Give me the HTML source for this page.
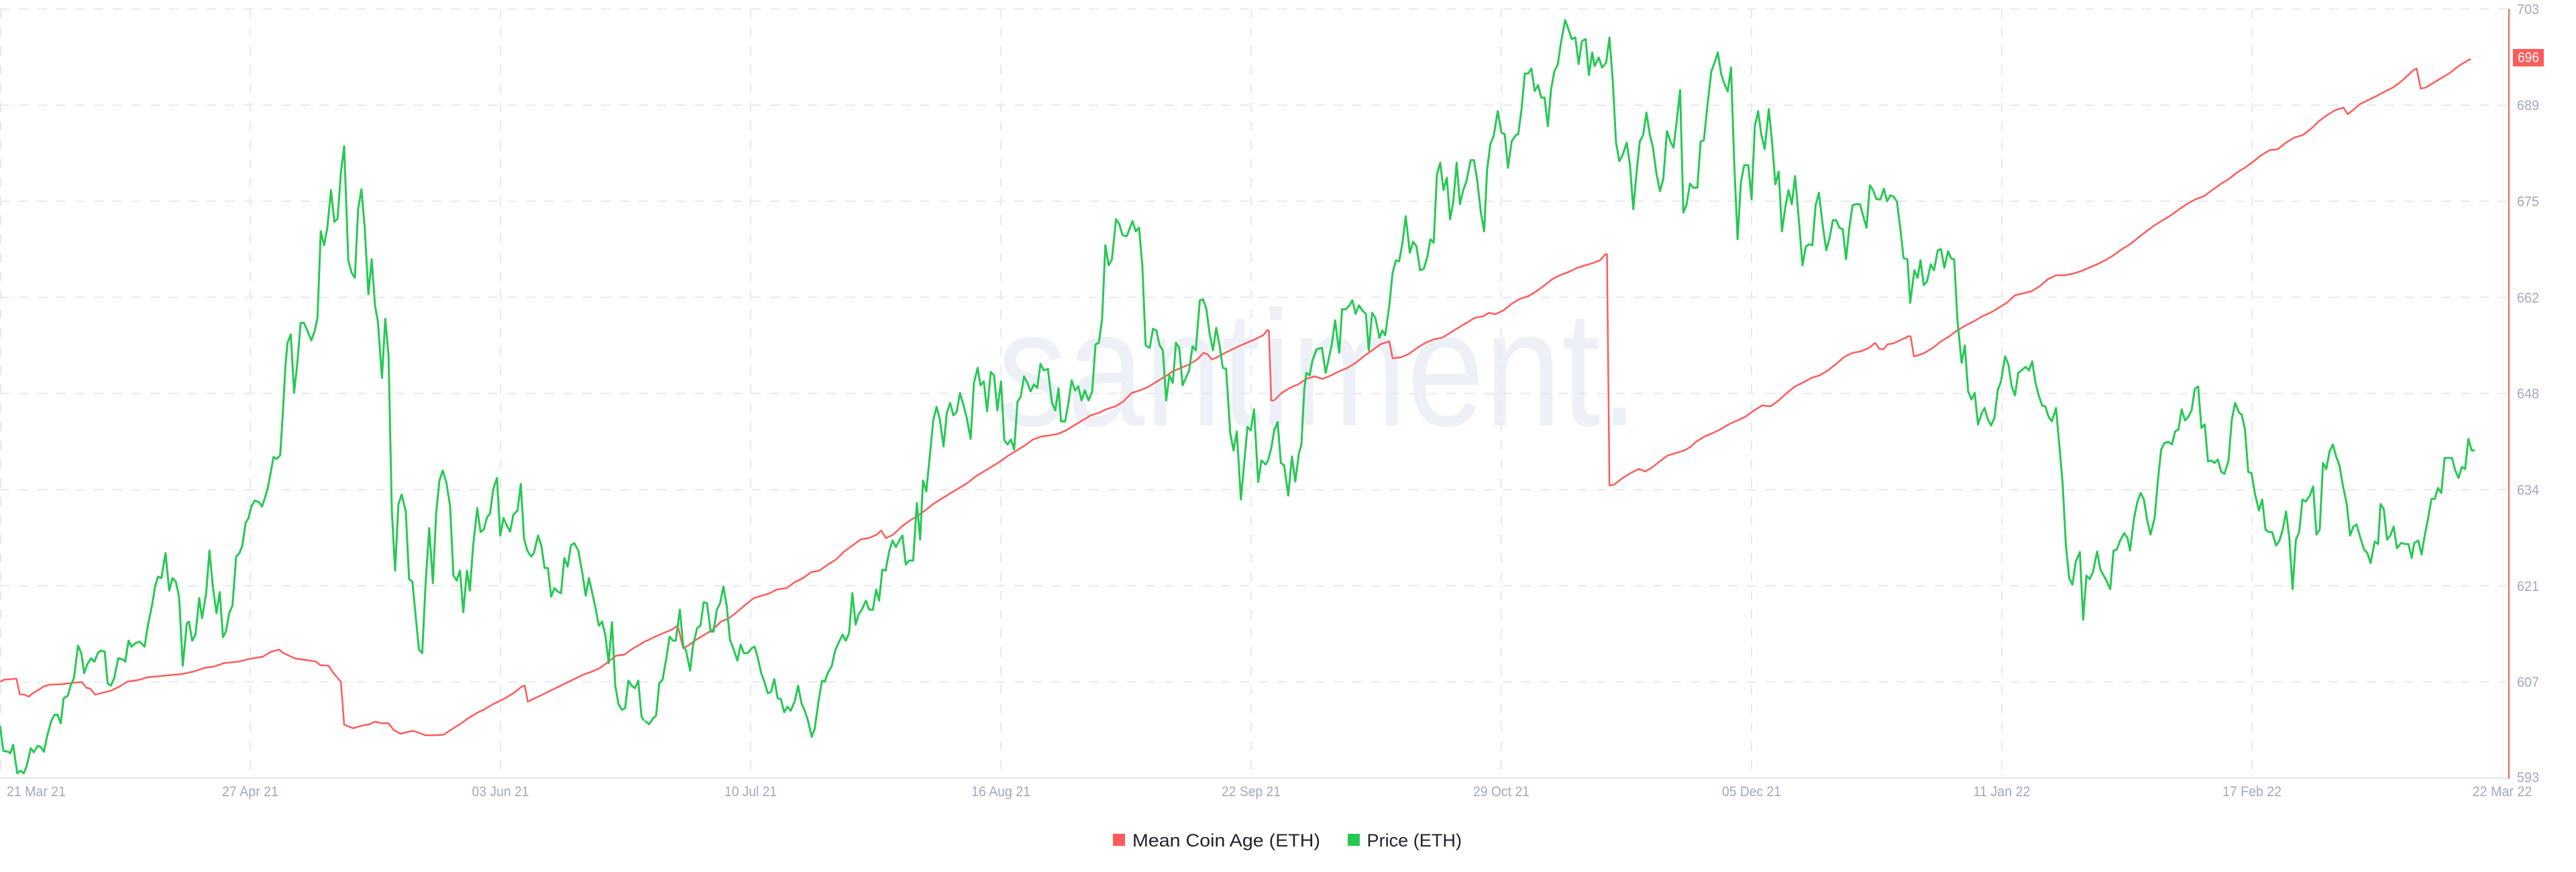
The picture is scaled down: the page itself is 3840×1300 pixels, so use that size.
<!DOCTYPE html>
<html><head><meta charset="utf-8"><style>html,body{margin:0;padding:0;background:#fff;width:3840px;height:1300px;overflow:hidden}</style></head>
<body>
<svg width="3840" height="1300" viewBox="0 0 3840 1300" xmlns="http://www.w3.org/2000/svg" font-family="'Liberation Sans', sans-serif">
<rect x="0" y="0" width="3840" height="1300" fill="#fff"/>
<text x="1487" y="634" font-size="245" fill="#edf0f7" textLength="956" lengthAdjust="spacingAndGlyphs">santiment.</text>
<g stroke="#e6e9f0" stroke-width="2" stroke-dasharray="14 14" fill="none">
<line x1="0" y1="13.4" x2="3738" y2="13.4"/>
<line x1="0" y1="156.7" x2="3738" y2="156.7"/>
<line x1="0" y1="300" x2="3738" y2="300"/>
<line x1="0" y1="443.3" x2="3738" y2="443.3"/>
<line x1="0" y1="586.6" x2="3738" y2="586.6"/>
<line x1="0" y1="730" x2="3738" y2="730"/>
<line x1="0" y1="873.3" x2="3738" y2="873.3"/>
<line x1="0" y1="1016.6" x2="3738" y2="1016.6"/>
<line x1="1" y1="13" x2="1" y2="1160"/>
<line x1="373" y1="13" x2="373" y2="1160"/>
<line x1="746" y1="13" x2="746" y2="1160"/>
<line x1="1119" y1="13" x2="1119" y2="1160"/>
<line x1="1492" y1="13" x2="1492" y2="1160"/>
<line x1="1865" y1="13" x2="1865" y2="1160"/>
<line x1="2238" y1="13" x2="2238" y2="1160"/>
<line x1="2611" y1="13" x2="2611" y2="1160"/>
<line x1="2984" y1="13" x2="2984" y2="1160"/>
<line x1="3357" y1="13" x2="3357" y2="1160"/>
</g>
<line x1="0" y1="1160" x2="3740" y2="1160" stroke="#e3e6ee" stroke-width="2"/>
<line x1="3740" y1="13" x2="3740" y2="1161" stroke="#f0605d" stroke-width="2"/>

<g fill="none" stroke="#ff5b5b" stroke-width="2.5" stroke-linejoin="round">
<polyline vector-effect="non-scaling-stroke" transform="translate(0,0) scale(0.612245,0.746173)" points="0,1362 10,1358 40,1356 48,1387 60,1388 70,1392 80,1385 95,1378 105,1372 120,1368 150,1367 180,1364 200,1363 210,1374 220,1376 232,1388 245,1385 270,1380 290,1372 310,1362 340,1358 360,1353 400,1350 440,1347 470,1342 500,1334 520,1332 545,1325 580,1322 610,1316 640,1312 660,1302 680,1298 690,1305 720,1316 740,1318 770,1322 780,1329 800,1330 812,1345 830,1362 838,1448 860,1455 880,1450 900,1447 912,1442 930,1445 946,1445 958,1458 975,1466 990,1463 1005,1460 1020,1464 1035,1469 1060,1469 1080,1468 1100,1457 1120,1447 1140,1435 1160,1425 1180,1417 1200,1407 1230,1395 1250,1385 1270,1372 1278,1370 1285,1402 1300,1396 1320,1388 1340,1380 1360,1372 1390,1360 1420,1348 1440,1342 1460,1335 1480,1323 1500,1310 1520,1308 1540,1296 1560,1287 1568,1282"/>
<polyline vector-effect="non-scaling-stroke" transform="translate(940,0) scale(0.612245,0.746173)" points="33,1282 40,1280 60,1272 80,1265 100,1258 115,1250 122,1275 128,1295 140,1290 160,1278 180,1268 200,1258 220,1242 240,1235 260,1222 280,1208 300,1195 320,1190 340,1185 355,1178 380,1175 400,1163 420,1155 440,1143 460,1140 480,1128 500,1118 520,1102 540,1090 560,1078 580,1075 600,1068 610,1060 622,1075 640,1068 660,1052 680,1040 700,1030 720,1018 740,1005 760,995 780,985 800,975 820,965 840,952 860,942 880,932 900,922 920,910 940,900 960,890 980,878 1000,872 1020,870 1040,867 1060,860 1080,850 1100,840 1120,830 1140,825 1160,817 1180,812 1200,802 1220,785 1240,780 1260,773 1280,763 1300,753 1320,742 1340,735 1360,728 1380,718 1395,705 1405,708 1415,718 1425,715 1440,708 1460,700 1480,692 1500,685 1520,678 1540,670 1550,660 1554,660 1560,800 1568,800"/>
<polyline vector-effect="non-scaling-stroke" transform="translate(1880,0) scale(0.612245,0.746173)" points="33,799 50,785 70,775 90,768 110,757 130,752 150,757 170,750 190,742 210,735 230,725 250,712 270,700 290,688 312,682 320,716 340,714 360,707 380,695 400,685 420,678 440,675 460,665 480,655 500,645 520,635 540,632 555,625 570,628 590,620 610,607 630,597 650,592 670,582 690,570 710,557 730,549 750,543 770,535 790,530 810,525 825,520 838,508 842,508 848,970 860,968 880,955 900,945 920,937 935,942 950,935 970,922 990,910 1010,905 1030,900 1045,893 1060,882 1080,872 1100,865 1120,857 1140,847 1160,840 1180,832 1200,820 1220,810 1240,812 1260,800 1280,785 1300,772 1320,764 1340,755 1360,750 1380,740 1400,727 1420,713 1440,705 1460,702 1480,695 1495,685 1505,697 1515,698 1525,688 1540,686 1560,678 1568,675"/>
<polyline vector-effect="non-scaling-stroke" transform="translate(2820,0) scale(0.612245,0.746173)" points="33,677 38,672 46,672 54,712 64,710 80,705 100,695 120,682 140,672 160,660 180,650 200,642 220,632 240,625 260,615 280,605 300,590 320,586 340,582 360,572 380,558 400,550 420,550 440,547 460,542 480,535 500,528 520,520 540,510 560,498 580,488 600,475 620,462 640,450 660,440 680,430 700,418 720,407 740,398 760,392 780,380 800,368 820,358 840,345 860,335 880,323 900,310 920,300 940,298 960,285 980,275 1000,270 1020,258 1040,242 1060,230 1080,220 1100,215 1110,228 1120,222 1140,208 1160,200 1180,192 1200,183 1220,175 1240,163 1260,148 1270,140 1278,137 1288,177 1300,175 1320,165 1340,155 1360,145 1380,132 1400,122 1410,118"/>
</g>

<g fill="none" stroke="#26c953" stroke-width="3" stroke-linejoin="round">
<polyline vector-effect="non-scaling-stroke" transform="translate(0,0) scale(0.612245,0.746173)" points="0,1450 8,1500 20,1502 25,1505 32,1488 42,1545 50,1540 58,1545 65,1530 75,1495 82,1503 92,1490 100,1493 107,1502 115,1470 125,1440 133,1428 140,1428 148,1445 155,1395 165,1390 172,1370 180,1355 190,1290 198,1305 205,1345 212,1328 222,1315 230,1322 238,1305 245,1300 255,1302 262,1365 270,1370 278,1355 288,1315 300,1318 305,1322 313,1280 320,1292 330,1285 340,1282 352,1292 360,1250 370,1210 378,1170 385,1152 393,1155 403,1105 412,1180 420,1155 428,1162 436,1192 445,1330 455,1245 460,1242 468,1280 476,1268 485,1195 492,1235 502,1185 510,1100 518,1170 527,1225 535,1183 543,1273 550,1262 558,1225 566,1210 575,1112 583,1105 590,1090 598,1045 605,1035 612,1012 620,1000 630,1003 638,1012 645,995 652,975 660,940 666,913 673,917 682,910 688,835 695,730 700,685 708,668 716,785 724,725 732,645 740,645 748,660 758,680 766,662 773,635 781,462 789,490 797,455 806,380 814,443 822,437 830,345 838,292 848,520 856,545 864,555 872,418 880,378 888,455 897,588 905,518 913,610 920,642 930,755 938,637 946,710 954,1020 962,1140 970,1008 978,988 988,1022 996,1157 1004,1162 1012,1230 1020,1298 1028,1305 1036,1170 1045,1055 1054,1165 1062,1025 1070,960 1078,940 1087,965 1096,1012 1104,1150 1112,1160 1120,1140 1128,1223 1137,1140 1144,1180 1152,1090 1162,1015 1170,1063 1178,1058 1186,1033 1193,1027 1201,977 1210,955 1218,1070 1226,1035 1234,1050 1242,1062 1250,1028 1260,1020 1268,967 1276,1077 1284,1100 1293,1112 1300,1105 1310,1070 1318,1090 1326,1135 1334,1135 1342,1192 1350,1175 1358,1182 1366,1185 1374,1115 1382,1132 1390,1090 1398,1085 1408,1100 1418,1145 1426,1190 1434,1155 1442,1185 1450,1215 1458,1250 1466,1242 1474,1270 1482,1325 1490,1243 1498,1370 1506,1407 1514,1418 1522,1415 1530,1360 1538,1370 1546,1375 1554,1360 1562,1432 1568,1440"/>
<polyline vector-effect="non-scaling-stroke" transform="translate(940,0) scale(0.612245,0.746173)" points="35,1440 45,1447 55,1435 62,1430 70,1365 78,1358 88,1310 95,1272 103,1280 110,1280 120,1218 128,1290 135,1300 145,1340 152,1290 162,1255 170,1250 178,1203 186,1205 195,1262 202,1262 210,1218 218,1205 226,1172 234,1210 242,1278 252,1300 260,1320 268,1288 276,1305 285,1305 295,1295 302,1292 310,1315 318,1345 325,1360 334,1385 342,1382 350,1357 358,1395 366,1397 374,1423 382,1412 390,1420 400,1400 408,1370 416,1405 424,1420 432,1440 441,1472 448,1457 458,1400 466,1360 473,1362 480,1345 490,1330 498,1300 506,1285 516,1268 524,1280 532,1265 540,1185 548,1248 555,1228 563,1218 573,1200 581,1218 590,1218 598,1178 605,1200 613,1138 621,1140 630,1100 638,1080 646,1093 654,1080 662,1070 670,1128 678,1120 688,1120 697,1005 705,1078 712,960 720,982 728,915 737,840 745,813 753,838 762,892 770,825 778,805 786,830 794,823 802,785 810,808 818,833 828,877 836,765 845,735 852,770 860,762 868,822 877,743 885,750 893,820 902,762 910,880 918,888 926,878 934,898 942,803 950,792 958,752 966,765 974,782 982,768 990,775 998,727 1006,740 1016,737 1026,805 1034,820 1042,776 1048,842 1058,842 1066,806 1074,760 1082,780 1090,772 1098,800 1106,780 1115,800 1124,782 1132,688 1140,685 1148,638 1156,490 1164,530 1172,518 1182,438 1190,448 1198,470 1208,472 1222,442 1230,462 1238,455 1246,530 1254,690 1264,695 1272,657 1280,660 1288,690 1296,700 1304,800 1312,750 1320,765 1328,685 1336,695 1344,770 1352,755 1360,740 1368,692 1376,700 1386,600 1394,598 1402,618 1410,668 1418,700 1426,655 1434,690 1442,735 1450,737 1460,865 1468,900 1476,862 1486,998 1494,925 1502,853 1510,860 1518,818 1528,963 1536,920 1546,928 1552,920 1560,895 1568,855"/>
<polyline vector-effect="non-scaling-stroke" transform="translate(1880,0) scale(0.612245,0.746173)" points="33,858 40,843 48,925 56,930 66,990 75,912 83,962 92,905 98,888 105,778 110,745 118,750 125,720 135,698 148,695 157,745 165,715 172,688 180,640 190,705 197,618 206,618 215,610 222,600 230,627 238,610 246,620 255,627 262,700 270,625 278,635 288,675 295,660 302,670 312,610 320,545 328,520 336,522 344,485 352,432 362,505 370,483 378,492 387,540 396,537 405,512 412,478 420,485 428,348 436,325 444,380 452,355 460,438 468,402 476,325 484,408 492,380 500,362 510,320 518,320 526,360 535,425 543,462 550,340 558,288 566,272 576,222 585,265 593,268 601,335 610,282 620,270 626,268 634,218 642,147 650,147 658,137 666,182 674,170 682,195 690,195 698,252 706,178 714,142 722,130 730,85 740,40 748,58 756,78 765,75 773,128 781,82 790,78 798,150 806,105 812,132 822,115 830,135 840,125 848,75 856,160 864,285 872,322 880,310 890,285 898,330 906,418 914,345 922,282 930,270 938,225 946,268 954,295 962,345 971,382 979,358 988,262 996,282 1004,295 1012,240 1020,180 1028,425 1036,408 1044,367 1052,375 1062,375 1070,283 1078,280 1086,215 1096,143 1104,125 1112,105 1120,148 1128,168 1136,183 1144,135 1152,330 1160,478 1168,365 1176,330 1186,330 1194,398 1202,252 1210,222 1218,270 1226,298 1236,218 1244,285 1252,368 1260,343 1268,462 1276,415 1284,380 1292,408 1300,352 1310,448 1318,530 1326,493 1334,488 1342,490 1350,410 1358,385 1368,455 1376,500 1384,475 1392,440 1400,440 1408,455 1416,458 1424,518 1432,455 1440,410 1448,408 1458,408 1466,432 1474,455 1482,370 1490,380 1498,398 1508,398 1516,377 1524,402 1532,390 1540,393 1548,403 1556,455 1564,515 1568,518"/>
<polyline vector-effect="non-scaling-stroke" transform="translate(2820,0) scale(0.612245,0.746173)" points="33,516 38,518 45,605 55,540 63,555 70,520 78,570 86,562 95,528 103,540 112,500 120,498 128,535 137,502 145,517 152,518 160,640 170,725 178,690 186,782 194,798 202,785 210,848 218,828 226,815 234,838 242,850 250,835 258,780 266,762 276,712 284,728 292,772 300,790 308,745 316,740 326,733 334,740 342,722 350,765 358,790 366,810 374,812 382,833 390,842 400,815 408,890 416,965 424,1090 432,1155 440,1168 448,1122 458,1103 466,1238 474,1150 482,1157 490,1143 500,1102 508,1138 516,1150 524,1162 532,1177 540,1100 548,1098 556,1080 566,1065 574,1075 580,1100 590,1035 598,1003 606,985 614,998 622,1040 630,1068 640,1035 648,960 656,898 664,885 674,883 682,888 690,862 698,858 706,818 714,840 722,833 730,820 738,777 746,772 754,855 762,848 770,922 778,920 786,925 794,918 802,942 810,947 820,920 828,838 836,805 846,825 852,828 860,858 868,943 876,945 884,985 894,1020 902,998 910,1058 918,1063 926,1063 936,1090 944,1080 952,1058 960,1022 968,1075 976,1177 984,1078 992,1063 1000,998 1008,1002 1018,990 1026,972 1034,1068 1042,1058 1050,925 1058,937 1066,902 1074,888 1082,912 1090,930 1098,968 1108,1008 1116,1070 1124,1052 1132,1048 1140,1072 1150,1098 1158,1105 1166,1125 1176,1082 1184,1087 1190,1007 1198,1017 1206,1078 1214,1070 1222,1052 1230,1095 1240,1085 1250,1087 1258,1087 1266,1115 1272,1085 1282,1080 1290,1108 1298,1068 1306,1035 1314,997 1322,997 1330,975 1338,985 1346,915 1356,915 1364,915 1372,940 1380,955 1388,933 1396,937 1404,877 1412,900 1420,900"/>
</g>

<g font-size="21" fill="#a0a8bf">
<text x="3752" y="21" textLength="33" lengthAdjust="spacingAndGlyphs">703</text>
<text x="3752" y="164" textLength="33" lengthAdjust="spacingAndGlyphs">689</text>
<text x="3752" y="307.5" textLength="33" lengthAdjust="spacingAndGlyphs">675</text>
<text x="3752" y="451" textLength="33" lengthAdjust="spacingAndGlyphs">662</text>
<text x="3752" y="594" textLength="33" lengthAdjust="spacingAndGlyphs">648</text>
<text x="3752" y="737.5" textLength="33" lengthAdjust="spacingAndGlyphs">634</text>
<text x="3752" y="881" textLength="33" lengthAdjust="spacingAndGlyphs">621</text>
<text x="3752" y="1024" textLength="33" lengthAdjust="spacingAndGlyphs">607</text>
<text x="3752" y="1166" textLength="33" lengthAdjust="spacingAndGlyphs">593</text>
</g>
<rect x="3746" y="73" width="46" height="26" fill="#ff5b5b"/>
<text x="3753" y="92.5" font-size="21" fill="#ffffff" textLength="32" lengthAdjust="spacingAndGlyphs">696</text>

<g font-size="21" fill="#a0a8bf" text-anchor="middle">
<text x="10" y="1187" text-anchor="start" textLength="88" lengthAdjust="spacingAndGlyphs">21 Mar 21</text>
<text x="373" y="1187" textLength="84" lengthAdjust="spacingAndGlyphs">27 Apr 21</text>
<text x="746" y="1187" textLength="85" lengthAdjust="spacingAndGlyphs">03 Jun 21</text>
<text x="1119" y="1187" textLength="78" lengthAdjust="spacingAndGlyphs">10 Jul 21</text>
<text x="1492" y="1187" textLength="88" lengthAdjust="spacingAndGlyphs">16 Aug 21</text>
<text x="1865" y="1187" textLength="88" lengthAdjust="spacingAndGlyphs">22 Sep 21</text>
<text x="2238" y="1187" textLength="84" lengthAdjust="spacingAndGlyphs">29 Oct 21</text>
<text x="2611" y="1187" textLength="88" lengthAdjust="spacingAndGlyphs">05 Dec 21</text>
<text x="2984" y="1187" textLength="85" lengthAdjust="spacingAndGlyphs">11 Jan 22</text>
<text x="3357" y="1187" textLength="88" lengthAdjust="spacingAndGlyphs">17 Feb 22</text>
<text x="3730" y="1187" textLength="89" lengthAdjust="spacingAndGlyphs">22 Mar 22</text>
</g>

<rect x="1659" y="1243" width="18" height="18" fill="#ff5b5b"/>
<text x="1688" y="1262" font-size="27" fill="#1e222d" textLength="280" lengthAdjust="spacingAndGlyphs">Mean Coin Age (ETH)</text>
<rect x="2009" y="1243" width="18" height="18" fill="#26c953"/>
<text x="2037.5" y="1262" font-size="27" fill="#1e222d" textLength="141.5" lengthAdjust="spacingAndGlyphs">Price (ETH)</text>
</svg>
</body></html>
